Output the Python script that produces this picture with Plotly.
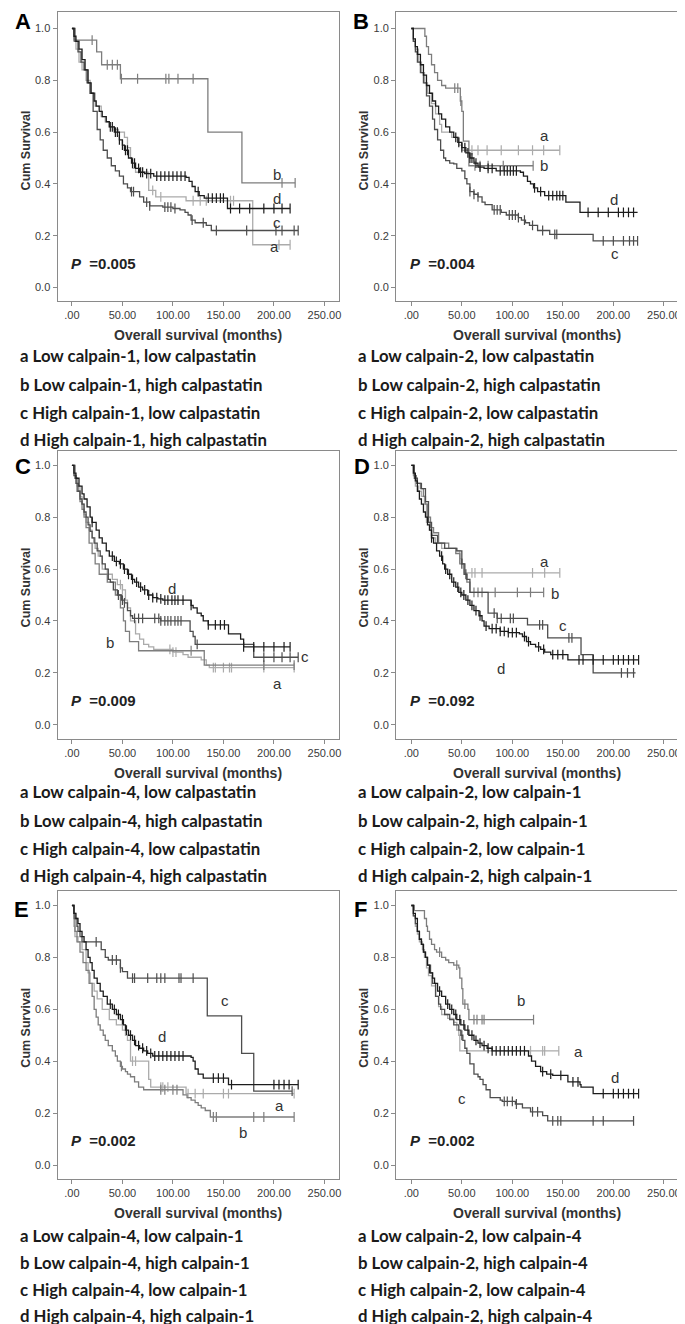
import plotly.graph_objects as go

# ---------------- DATA (time in months, cumulative survival) ----------------
panel_ids = ["A", "B", "C", "D", "E", "F"]
group_ids = ["a", "b", "c", "d"]
x_tick_vals = [0, 50, 100, 150, 200, 250]
x_tick_text = [".00", "50.00", "100.00", "150.00", "200.00", "250.00"]
y_tick_vals = [0.0, 0.2, 0.4, 0.6, 0.8, 1.0]
p_values = ["0.005", "0.004", "0.009", "0.092", "0.002", "0.002"]

# Panel A
A_a = [[0,1],[2,.95],[4,.92],[7,.87],[10,.84],[14,.80],[18,.75],[23,.70],[29,.66],[33,.64],[37,.62],[42,.61],[46,.60],[52,.58],[55,.54],[58,.50],[60,.46],[63,.445],[76,.375],[83,.35],[113,.335],[179,.165],[216,.165]]
A_b = [[0,1],[2,.955],[24.5,.91],[29.4,.86],[48,.806],[134.6,.60],[168.3,.404],[221,.404]]
A_c = [[0,1],[3,.95],[6,.91],[9,.87],[12,.84],[15,.79],[18,.75],[21,.68],[25,.61],[28,.57],[31,.53],[35,.50],[39,.47],[43,.45],[47,.43],[51,.40],[55,.385],[58,.37],[67,.35],[71,.33],[77,.315],[90,.31],[100,.305],[107,.30],[112,.29],[115,.28],[118,.26],[122,.25],[133,.24],[138,.22],[224,.22]]
A_d = [[0,1],[2,.97],[4,.95],[7,.92],[10,.88],[13,.84],[16,.79],[19,.75],[22,.72],[24,.70],[27,.68],[30,.66],[34,.64],[37,.62],[42,.60],[47,.57],[50,.55],[52,.53],[56,.50],[59,.48],[63,.46],[67,.445],[72,.44],[81,.43],[113,.425],[116,.41],[119,.39],[122,.37],[126,.355],[131,.345],[154,.305],[216,.305]]
A_a_cens = [80, 88, 120, 127, 133, 157, 160, 205, 216]
A_b_cens = [20, 35, 40, 45, 49, 65, 93, 96, 105, 120, 208, 221]
A_c_cens = [59, 61, 74, 77, 92, 95, 98, 102, 119, 130, 143, 173, 202, 208, 220, 224]
A_d_cens = [38, 40, 43, 45, 47, 50, 53, 55, 60, 62, 66, 68, 70, 74, 78, 84, 88, 92, 96, 100, 104, 108, 112, 125, 135, 139, 143, 147, 150, 157, 166, 176, 190, 200, 208, 216]

# Panel B
B_a = [[0,1],[2,.95],[4,.92],[7,.87],[10,.83],[13,.79],[16,.75],[20,.71],[24,.67],[28,.63],[30,.60],[40,.58],[47,.55],[50,.53],[147,.53]]
B_b = [[0,1],[13.4,.97],[15,.93],[17,.90],[20,.86],[23,.83],[26,.80],[30,.78],[34,.77],[48.5,.72],[50,.68],[51.5,.565],[57,.47],[120.6,.47]]
B_c = [[0,1],[2,.95],[4,.91],[6,.87],[9,.83],[12,.79],[15,.74],[18,.70],[21,.65],[23,.61],[26,.57],[29,.53],[32,.50],[34,.49],[38,.48],[42,.477],[45,.46],[50,.45],[53,.42],[55,.40],[58,.37],[62,.36],[66,.35],[70,.33],[73,.32],[80,.30],[89,.29],[94,.28],[106,.27],[109,.26],[113,.25],[117,.24],[125,.22],[137,.205],[180,.18],[224,.18]]
B_d = [[0,1],[2,.96],[4,.93],[6,.90],[9,.86],[12,.82],[15,.78],[18,.75],[21,.72],[24,.70],[27,.67],[30,.65],[34,.62],[38,.60],[42,.58],[46,.56],[50,.54],[54,.52],[58,.50],[62,.48],[66,.465],[72,.46],[84,.45],[108,.445],[111,.43],[115,.41],[118,.40],[121,.385],[125,.37],[132,.355],[153,.33],[167,.29],[224,.29]]
B_a_cens = [60, 66, 75, 89, 106, 120, 131, 147]
B_b_cens = [43, 46, 49, 63, 68, 76, 91, 120.6]
B_c_cens = [58, 62, 66, 82, 85, 88, 97, 100, 103, 106, 112, 120, 130, 142, 144, 190, 200, 210, 216, 220, 224]
B_d_cens = [44, 47, 50, 53, 56, 58, 60, 64, 68, 76, 80, 88, 92, 95, 98, 101, 104, 122, 128, 136, 140, 144, 147, 150, 175, 185, 195, 205, 210, 215, 220]

# Panel C
C_a = [[0,1],[3,.95],[5,.92],[8,.88],[10,.85],[12,.81],[14,.78],[17,.75],[20,.72],[23,.68],[26,.65],[30,.60],[35,.58],[40,.56],[45,.54],[50,.52],[53,.48],[55,.45],[58,.40],[63,.35],[67,.33],[71,.31],[76,.30],[81,.29],[100,.28],[110,.27],[115,.26],[128,.25],[133,.23],[136,.22],[220,.22]]
C_b = [[0,1],[3,.95],[5,.90],[8,.86],[10,.83],[12,.80],[14,.76],[17,.70],[20,.66],[23,.62],[27,.58],[35,.55],[43,.50],[48,.45],[51,.40],[53,.36],[57,.32],[66,.285],[131,.23],[220,.23]]
C_c = [[0,1],[2,.96],[4,.93],[6,.90],[8,.87],[10,.85],[12,.82],[14,.80],[16,.77],[18,.745],[20,.72],[22,.70],[25,.67],[28,.65],[30,.62],[33,.60],[36,.56],[38,.55],[41,.52],[45,.50],[49,.48],[52,.47],[55,.44],[58,.42],[60,.41],[88,.40],[117,.36],[120,.34],[122,.31],[180,.26],[224,.26]]
C_d = [[0,1],[2,.97],[4,.95],[7,.92],[10,.89],[12,.87],[15,.84],[18,.80],[20,.78],[24,.75],[27,.72],[30,.70],[34,.67],[37,.65],[42,.63],[47,.62],[51,.60],[55,.58],[59,.56],[62,.55],[66,.53],[70,.52],[75,.50],[80,.49],[85,.485],[90,.48],[118,.46],[120,.45],[124,.43],[128,.42],[130,.40],[135,.385],[155,.35],[167,.33],[170,.30],[216,.30]]
C_a_cens = [48, 50, 97, 100, 103, 140, 142, 150, 156, 158, 190, 220]
C_b_cens = [118, 190, 220]
C_c_cens = [46, 50, 52, 62, 66, 70, 82, 86, 88, 92, 95, 98, 102, 105, 108, 124, 190, 200, 208, 216, 224]
C_d_cens = [20, 40, 44, 48, 52, 56, 60, 64, 68, 72, 76, 80, 84, 88, 92, 95, 99, 102, 105, 110, 118, 135, 142, 147, 151, 170, 180, 190, 200, 210, 216]

# Panel D
D_a = [[0,1],[2,.96],[4,.92],[7,.90],[10,.88],[13,.85],[15,.78],[18,.75],[20,.72],[24,.70],[30,.68],[45,.67],[48,.64],[50,.62],[52,.585],[147,.585]]
D_b = [[0,1],[3,.96],[5,.93],[9,.91],[12,.88],[14,.85],[16,.80],[19,.76],[22,.74],[27,.70],[37,.68],[44,.66],[48,.62],[52,.58],[55,.55],[58,.51],[131,.51]]
D_c = [[0,1],[3,.95],[6,.93],[10,.91],[14,.86],[17,.78],[20,.73],[26,.70],[33,.68],[45,.67],[50,.62],[53,.58],[55,.56],[58,.51],[76,.43],[85,.41],[115,.385],[135,.335],[168,.27],[180,.20],[222,.20]]
D_d = [[0,1],[2,.97],[4,.94],[6,.90],[8,.87],[10,.85],[12,.82],[14,.80],[16,.77],[18,.75],[20,.72],[22,.70],[25,.67],[28,.65],[31,.62],[33,.60],[36,.58],[40,.55],[44,.53],[47,.51],[50,.50],[54,.48],[58,.46],[62,.44],[67,.42],[70,.40],[72,.38],[77,.37],[88,.36],[96,.355],[107,.35],[110,.34],[114,.32],[118,.31],[123,.30],[128,.29],[132,.28],[138,.27],[155,.25],[225,.25]]
D_a_cens = [48, 60, 63, 70, 120, 132, 147]
D_b_cens = [62, 66, 70, 83, 105, 118, 131]
D_c_cens = [50, 54, 82, 85, 89, 98, 101, 127, 130, 156, 159, 208, 214, 220]
D_d_cens = [20, 30, 34, 38, 42, 46, 49, 52, 56, 60, 64, 68, 74, 80, 84, 88, 92, 96, 100, 104, 112, 116, 126, 131, 140, 145, 150, 166, 170, 180, 190, 200, 205, 210, 215, 220, 225]

# Panel E
E_a = [[0,1],[2,.92],[3,.88],[6,.86],[10,.83],[14,.78],[16,.74],[18,.70],[22,.67],[25,.64],[30,.60],[37,.56],[44,.54],[50,.52],[53,.50],[55,.48],[58,.40],[76,.33],[78,.30],[113,.275],[220,.275]]
E_b = [[0,1],[2,.95],[3,.90],[5,.86],[8,.82],[11,.78],[14,.75],[17,.70],[20,.65],[22,.60],[24,.57],[26,.54],[28,.52],[31,.50],[33,.48],[36,.46],[40,.44],[43,.42],[45,.40],[48,.38],[50,.37],[53,.36],[55,.35],[58,.34],[62,.32],[66,.30],[71,.29],[110,.27],[114,.26],[118,.25],[122,.24],[125,.23],[128,.22],[132,.21],[137,.185],[220,.185]]
E_c = [[0,1],[2,.97],[3,.95],[5,.92],[6,.90],[8,.88],[10,.86],[29,.83],[33,.80],[36,.79],[48,.76],[50,.745],[55,.72],[134,.575],[168,.43],[180,.285],[218,.285]]
E_d = [[0,1],[2,.97],[4,.95],[6,.93],[8,.90],[10,.88],[12,.86],[14,.83],[16,.80],[18,.78],[20,.75],[22,.72],[25,.70],[28,.67],[31,.65],[35,.62],[40,.60],[44,.58],[48,.56],[51,.54],[53,.52],[56,.50],[60,.48],[63,.46],[67,.45],[71,.44],[75,.43],[80,.42],[118,.415],[120,.40],[122,.37],[125,.35],[130,.335],[155,.31],[224,.31]]
E_a_cens = [60, 63, 88, 90, 95, 115, 122, 130, 150, 155, 220]
E_b_cens = [49, 88, 92, 100, 104, 140, 143, 180, 190, 220]
E_c_cens = [24, 40, 44, 48, 60, 62, 75, 84, 88, 92, 106, 108, 120, 218]
E_d_cens = [38, 42, 46, 50, 54, 58, 62, 66, 70, 74, 78, 82, 86, 90, 94, 98, 102, 106, 110, 140, 145, 150, 158, 200, 205, 210, 215, 224]

# Panel F
F_a = [[0,1],[2,.96],[4,.92],[6,.89],[8,.86],[11,.83],[13,.80],[15,.76],[17,.73],[20,.69],[24,.65],[27,.61],[30,.58],[36,.565],[42,.55],[45,.52],[47,.50],[48,.44],[146,.44]]
F_b = [[0,1],[3,.98],[13,.95],[15,.92],[16,.90],[18,.87],[20,.85],[23,.83],[25,.82],[30,.80],[34,.79],[37,.78],[42,.77],[47,.76],[48,.72],[50,.68],[51,.62],[56,.60],[57,.56],[121,.56]]
F_c = [[0,1],[2,.96],[4,.93],[6,.90],[8,.87],[10,.85],[12,.82],[14,.80],[16,.77],[19,.74],[21,.70],[24,.65],[27,.62],[29,.60],[33,.58],[38,.56],[42,.54],[47,.52],[49,.50],[51,.48],[53,.45],[55,.43],[58,.39],[62,.35],[66,.34],[68,.33],[71,.31],[74,.29],[78,.26],[88,.25],[90,.245],[103,.235],[110,.22],[118,.205],[130,.19],[135,.17],[220,.17]]
F_d = [[0,1],[2,.97],[4,.95],[6,.90],[8,.87],[10,.85],[12,.82],[14,.80],[16,.77],[18,.74],[21,.72],[23,.70],[26,.67],[30,.65],[34,.62],[38,.60],[42,.58],[45,.56],[49,.54],[53,.52],[57,.50],[62,.48],[66,.47],[70,.46],[75,.45],[80,.44],[116,.42],[119,.40],[123,.38],[128,.36],[134,.35],[140,.345],[155,.32],[167,.31],[168,.30],[180,.275],[225,.275]]
F_a_cens = [118, 130, 132, 146]
F_b_cens = [28, 45, 53, 62, 65, 70, 72, 121]
F_c_cens = [50, 92, 95, 100, 104, 120, 125, 140, 145, 148, 180, 190, 220]
F_d_cens = [28, 36, 40, 44, 48, 52, 56, 60, 64, 68, 72, 76, 80, 84, 88, 92, 96, 100, 104, 108, 112, 130, 138, 148, 160, 165, 190, 200, 205, 210, 215, 220, 225]

# curve letter labels inside each panel: [x (months), y (survival)]
A_labels = {"a": [201, 0.159], "b": [203, 0.436], "c": [203, 0.252], "d": [203, 0.342]}
B_labels = {"a": [132, 0.587], "b": [131, 0.471], "c": [202, 0.133], "d": [201, 0.339]}
C_labels = {"a": [204, 0.158], "b": [38, 0.316], "c": [231, 0.262], "d": [99, 0.526]}
D_labels = {"a": [132, 0.629], "b": [142, 0.506], "c": [150, 0.384], "d": [89, 0.216]}
E_labels = {"a": [206, 0.229], "b": [169, 0.126], "c": [152, 0.635], "d": [89, 0.494]}
F_labels = {"a": [166, 0.436], "b": [109, 0.635], "c": [50, 0.255], "d": [202, 0.339]}

A_legend = ["a Low calpain-1, low calpastatin", "b Low calpain-1, high calpastatin",
            "c High calpain-1, low calpastatin", "d High calpain-1, high calpastatin"]
B_legend = ["a Low calpain-2, low calpastatin", "b Low calpain-2, high calpastatin",
            "c High calpain-2, low calpastatin", "d High calpain-2, high calpastatin"]
C_legend = ["a Low calpain-4, low calpastatin", "b Low calpain-4, high calpastatin",
            "c High calpain-4, low calpastatin", "d High calpain-4, high calpastatin"]
D_legend = ["a Low calpain-2, low calpain-1", "b Low calpain-2, high calpain-1",
            "c High calpain-2, low calpain-1", "d High calpain-2, high calpain-1"]
E_legend = ["a Low calpain-4, low calpain-1", "b Low calpain-4, high calpain-1",
            "c High calpain-4, low calpain-1", "d High calpain-4, high calpain-1"]
F_legend = ["a Low calpain-2, low calpain-4", "b Low calpain-2, high calpain-4",
            "c High calpain-2, low calpain-4", "d High calpain-2, high calpain-4"]

# ---------------- STYLE / LAYOUT ----------------
W, H = 685, 1324
colors = {"a": "#ababab", "b": "#7d7d7d", "c": "#4d4d4d", "d": "#1c1c1c"}
draw_order = ["a", "b", "c", "d"]

curves = {
    "A": {"a": (A_a, A_a_cens), "b": (A_b, A_b_cens), "c": (A_c, A_c_cens), "d": (A_d, A_d_cens)},
    "B": {"a": (B_a, B_a_cens), "b": (B_b, B_b_cens), "c": (B_c, B_c_cens), "d": (B_d, B_d_cens)},
    "C": {"a": (C_a, C_a_cens), "b": (C_b, C_b_cens), "c": (C_c, C_c_cens), "d": (C_d, C_d_cens)},
    "D": {"a": (D_a, D_a_cens), "b": (D_b, D_b_cens), "c": (D_c, D_c_cens), "d": (D_d, D_d_cens)},
    "E": {"a": (E_a, E_a_cens), "b": (E_b, E_b_cens), "c": (E_c, E_c_cens), "d": (E_d, E_d_cens)},
    "F": {"a": (F_a, F_a_cens), "b": (F_b, F_b_cens), "c": (F_c, F_c_cens), "d": (F_d, F_d_cens)},
}
labels = {"A": A_labels, "B": B_labels, "C": C_labels, "D": D_labels, "E": E_labels, "F": F_labels}
legends = {"A": A_legend, "B": B_legend, "C": C_legend, "D": D_legend, "E": E_legend, "F": F_legend}

# pixel geometry: rows (box top, box bottom, y=0 px, y=1 px); cols (box left, box right, x=0 px)
rows = [(3.5, 292.7, 279.5, 20.5), (443.0, 730.5, 716.7, 457.3), (883.0, 1171.0, 1157.0, 897.5)]
cols = [(50.0, 333.0, 64.3), (390.5, 673.0, 405.7)]
px_per_month = 1.016
xtitle_y = [327, 765, 1205]
legend_y = [[348, 376, 404, 432], [784, 812, 840, 867], [1227, 1254, 1281, 1307]]
legend_x = [10, 350]
ytitle_x = [18.5, 358.5]
letter_pos = [[(15, 14), (355, 14)], [(15, 458), (356, 458)], [(14, 901), (355, 901)]]


def px2x(px):
    return px / W


def py2y(py):
    return 1 - py / H


def surv_at(steps, t):
    s = steps[0][1]
    for tt, ss in steps:
        if tt <= t:
            s = ss
        else:
            break
    return s


fig = go.Figure()
annotations = []
tickfont = dict(family="Liberation Sans, Arial", size=11, color="#3a3a3a")

for i, pid in enumerate(panel_ids):
    r, c = divmod(i, 2)
    top, bot, y0p, y1p = rows[r]
    left, right, x0p = cols[c]
    yscale = y0p - y1p
    yr = [-(bot - y0p) / yscale, 1 + (y1p - top) / yscale]
    xr = [-(x0p - left) / px_per_month, (right - x0p) / px_per_month]
    n = i + 1
    xa = "x" if n == 1 else f"x{n}"
    ya = "y" if n == 1 else f"y{n}"
    axis_common = dict(showgrid=False, zeroline=False, showline=True, mirror=True,
                       linecolor="#8a8a8a", linewidth=1.4, ticks="outside", ticklen=4,
                       tickwidth=1, tickcolor="#8a8a8a", tickfont=tickfont, fixedrange=True)
    fig.layout[f"xaxis{'' if n == 1 else n}"] = dict(
        axis_common, domain=[px2x(left), px2x(right)], range=xr, anchor=ya,
        tickvals=x_tick_vals, ticktext=x_tick_text)
    fig.layout[f"yaxis{'' if n == 1 else n}"] = dict(
        axis_common, domain=[py2y(bot), py2y(top)], range=yr, anchor=xa,
        tickvals=y_tick_vals, tickformat=".1f")

    for g in draw_order:
        steps, cens = curves[pid][g]
        fig.add_trace(go.Scatter(
            x=[p[0] for p in steps], y=[p[1] for p in steps], mode="lines",
            line=dict(color=colors[g], width=1.3, shape="hv"),
            xaxis=xa, yaxis=ya, showlegend=False, hoverinfo="skip"))
        fig.add_trace(go.Scatter(
            x=cens, y=[surv_at(steps, t) for t in cens], mode="markers",
            marker=dict(symbol="line-ns-open", size=7, color=colors[g],
                        line=dict(color=colors[g], width=1.2)),
            xaxis=xa, yaxis=ya, showlegend=False, hoverinfo="skip"))

    # curve letters
    for g, (lx, ly) in labels[pid].items():
        annotations.append(dict(x=lx, y=ly, xref=xa, yref=ya, text=g, showarrow=False,
                                font=dict(family="Liberation Sans, Arial", size=15, color="#333333"),
                                xanchor="center", yanchor="middle"))
    # P value
    annotations.append(dict(x=-3, y=0.093, xref=xa, yref=ya,
                            text=f"<b><i>P</i>\u00a0\u00a0=" + p_values[i] + "</b>",
                            showarrow=False, xanchor="left", yanchor="middle",
                            font=dict(family="Liberation Sans, Arial", size=15, color="#222222")))
    # axis titles
    annotations.append(dict(x=px2x((left + right) / 2), y=py2y(xtitle_y[r]), xref="paper", yref="paper",
                            text="<b>Overall survival (months)</b>", showarrow=False,
                            xanchor="center", yanchor="middle",
                            font=dict(family="Liberation Sans, Arial", size=14, color="#333333")))
    annotations.append(dict(x=px2x(ytitle_x[c]), y=py2y((y0p + y1p) / 2 - 8), xref="paper", yref="paper",
                            text="<b>Cum Survival</b>", showarrow=False, textangle=-90,
                            xanchor="center", yanchor="middle",
                            font=dict(family="Liberation Sans, Arial", size=12.5, color="#333333")))
    # panel letter
    lxp, lyp = letter_pos[r][c]
    annotations.append(dict(x=px2x(lxp), y=py2y(lyp), xref="paper", yref="paper",
                            text=f"<b>{pid}</b>", showarrow=False, xanchor="center", yanchor="middle",
                            font=dict(family="Liberation Sans, Arial", size=22, color="#000000")))
    # legend text lines
    for k, line in enumerate(legends[pid]):
        annotations.append(dict(x=px2x(legend_x[c]), y=py2y(legend_y[r][k]), xref="paper", yref="paper",
                                text=f"<b>{line}</b>", showarrow=False, xanchor="left", yanchor="middle",
                                font=dict(family="Lato, Open Sans, sans-serif", size=16.8, color="#1a1a1a")))

fig.update_layout(width=W, height=H, margin=dict(l=0, r=0, t=0, b=0),
                  paper_bgcolor="white", plot_bgcolor="white",
                  annotations=annotations, showlegend=False)

fig.write_html("out.html", config={"displayModeBar": False})
